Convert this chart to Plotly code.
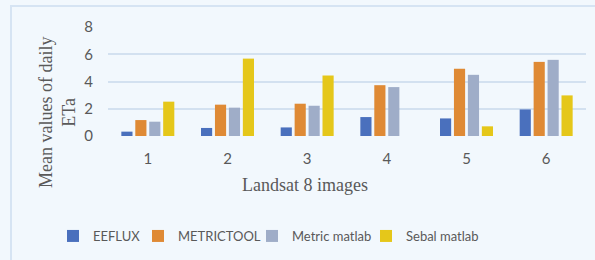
import plotly.graph_objects as go

categories = ["1", "2", "3", "4", "5", "6"]
eeflux = [0.32, 0.59, 0.63, 1.39, 1.29, 1.95]
metrictool = [1.17, 2.30, 2.37, 3.73, 4.93, 5.44]
metric_matlab = [1.05, 2.08, 2.22, 3.59, 4.49, 5.59]
sebal_matlab = [2.52, 5.68, 4.44, 0.0, 0.71, 2.98]

series_names = ["EEFLUX", "METRICTOOL", "Metric matlab", "Sebal matlab"]
series_values = [eeflux, metrictool, metric_matlab, sebal_matlab]
colors = ["#4a70bd", "#df8a35", "#9fadc8", "#e5c71a"]
legend_widths = [40, 69, 69, 70]

bg = "#f2f8fd"
text_col = "#595959"
sans = "Lato, 'Open Sans', sans-serif"
serif = "'Liberation Serif', 'Times New Roman', serif"

fig = go.Figure()
for name, vals, col, lw in zip(series_names, series_values, colors, legend_widths):
    fig.add_trace(go.Bar(x=categories, y=vals, name=name, legendwidth=lw,
                         marker=dict(color=col, line=dict(width=0))))

W, H = 595, 260
L, R, T, B = 108, 9, 27, 124
pw, ph = W - L - R, H - T - B

def px_x(x):
    return (x - L) / pw

def px_y(y):
    return (H - B - y) / ph

fig.update_layout(
    width=W, height=H,
    margin=dict(l=L, r=R, t=T, b=B, pad=0),
    paper_bgcolor=bg, plot_bgcolor=bg,
    barmode="group", bargap=0.3, bargroupgap=0.2,
    font=dict(family=sans, color=text_col, size=15),
    showlegend=True,
    legend=dict(orientation="h", x=px_x(53), xanchor="left",
                y=px_y(236), yanchor="middle",
                font=dict(family=sans, size=13, color=text_col),
                bgcolor="rgba(0,0,0,0)", itemwidth=30, tracegroupgap=0),
    xaxis=dict(showgrid=False, showline=False, zeroline=False,
               tickfont=dict(family=sans, size=15, color=text_col),
               ticks="", ticklabelstandoff=12),
    yaxis=dict(range=[0, 8], dtick=2, showgrid=True, gridcolor="#d3e1f0",
               gridwidth=1.5, zeroline=False, showline=False, ticks="",
               tickfont=dict(family=sans, size=15, color=text_col),
               ticklabelstandoff=14),
    shapes=[
        dict(type="path", xref="paper", yref="paper",
             path=f"M {px_x(11)} {px_y(262)} L {px_x(11)} {px_y(6)} L {px_x(600)} {px_y(6)}",
             line=dict(color="#d6e4f3", width=2), layer="below"),
    ],
    annotations=[
        dict(text="Landsat 8 images", xref="paper", yref="paper",
             x=px_x(305), y=px_y(185), xanchor="center", yanchor="middle",
             showarrow=False, font=dict(family=serif, size=18, color=text_col)),
        dict(text="Mean values of daily<br>ETa", xref="paper", yref="paper",
             x=px_x(58), y=px_y(113), xanchor="center", yanchor="middle",
             textangle=-90, showarrow=False,
             font=dict(family=serif, size=18, color=text_col)),
    ],
)

fig.write_html("out.html", config={"displayModeBar": False},
               post_script="document.body.style.margin='0';document.body.style.background='%s';" % bg)
